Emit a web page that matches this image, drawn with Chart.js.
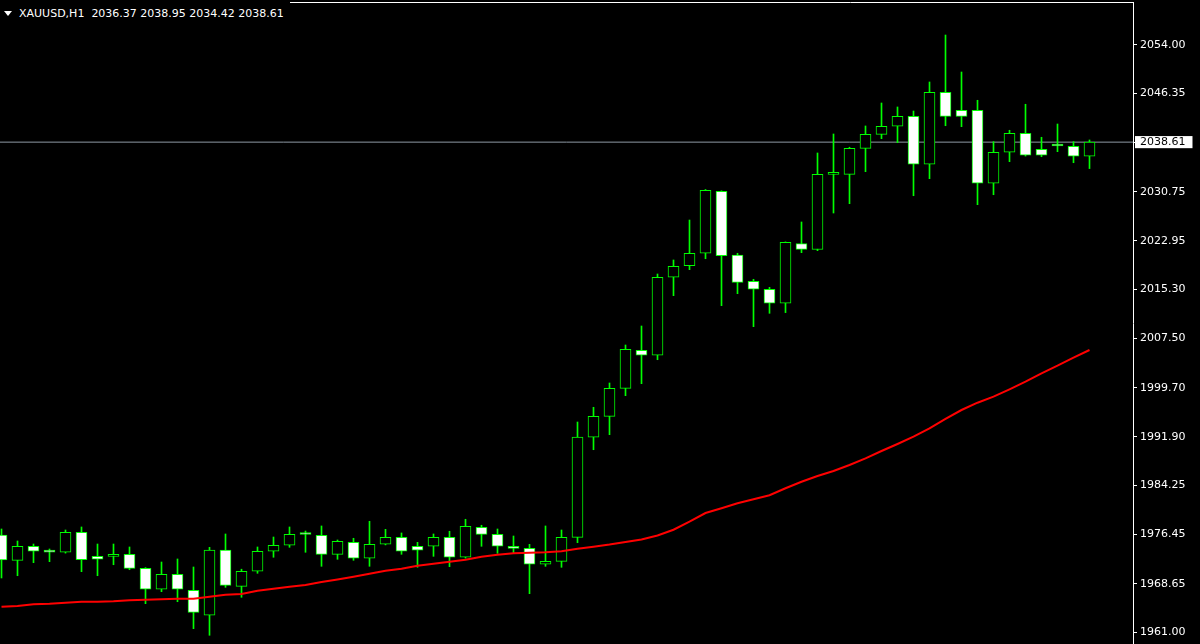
<!DOCTYPE html>
<html><head><meta charset="utf-8">
<script src="https://cdn.jsdelivr.net/npm/chart.js@4.4.1/dist/chart.umd.min.js"></script>
<style>
html,body{margin:0;padding:0;background:#000;width:1200px;height:644px;overflow:hidden}
#wrap{position:relative;width:1200px;height:644px;background:#000}
canvas{display:block}
#hdr{position:absolute;left:0;top:0;height:26px;background:#000;color:#fff;font-family:"DejaVu Sans";font-size:11px;line-height:28px;padding:0 6px 0 19px;white-space:pre}
#tri{position:absolute;left:4px;top:11px;width:0;height:0;border-left:4px solid transparent;border-right:4px solid transparent;border-top:5px solid #fff}
</style></head><body>
<div id="wrap"><canvas id="c" width="1200" height="644"></canvas><div id="hdr"><span id="tri"></span>XAUUSD,H1  2036.37 2038.95 2034.42 2038.61</div></div>
<script>
// H1 bars, oldest to newest
const opens = [1976.37,1972.36,1974.58,1973.75,1973.63,1976.80,1972.99,1972.99,1973.31,1971.09,
1967.77,1970.14,1967.61,1963.65,1973.99,1968.24,1970.62,1973.79,1974.74,1976.48,
1976.32,1973.31,1975.21,1972.68,1974.90,1976.00,1974.58,1974.58,1976.00,1972.84,
1977.59,1976.48,1974.58,1974.26,1971.73,1972.20,1976.00,1991.85,1995.17,1999.61,
2005.63,2004.84,2017.20,2019.04,2021.00,2030.82,2020.70,2016.56,2015.30,2013.08,
2022.52,2021.60,2033.50,2033.50,2037.63,2039.85,2041.12,2042.70,2035.10,2046.51,
2043.65,2043.65,2032.09,2037.00,2040.01,2037.48,2038.05,2037.95,2036.37];
const highs = [1977.32,1975.42,1974.94,1974.15,1977.16,1977.64,1974.94,1974.94,1974.47,1971.20,
1972.09,1972.57,1971.30,1974.42,1976.53,1970.95,1974.47,1976.05,1977.64,1977.00,
1977.80,1975.58,1975.85,1978.54,1977.27,1976.69,1975.21,1976.53,1976.96,1978.86,
1977.91,1977.32,1976.21,1974.89,1977.80,1977.16,1994.27,1996.60,2000.45,2006.47,
2009.48,2017.72,2019.94,2026.27,2031.10,2030.90,2021.00,2016.88,2015.61,2022.80,
2025.96,2036.89,2039.90,2037.80,2041.17,2044.81,2044.18,2043.54,2048.14,2055.58,
2049.72,2045.24,2038.68,2040.49,2044.61,2039.38,2041.48,2038.68,2038.95];
const lows = [1969.56,1969.92,1971.98,1972.14,1973.50,1970.56,1969.92,1971.66,1970.87,1965.49,
1967.39,1965.80,1961.53,1960.48,1968.08,1966.50,1970.30,1972.84,1974.42,1973.63,
1971.41,1972.52,1972.36,1971.41,1974.80,1973.31,1971.25,1972.99,1971.35,1972.70,
1974.58,1973.47,1973.47,1967.07,1971.41,1971.25,1975.15,1989.88,1992.26,1998.44,
2000.34,2004.14,2014.28,2018.40,2020.14,2012.70,2014.60,2009.37,2011.49,2011.60,
2021.10,2021.41,2027.38,2028.86,2033.93,2039.16,2038.52,2030.12,2032.82,2041.21,
2041.06,2028.70,2030.28,2035.51,2036.40,2036.30,2037.10,2035.35,2034.42];
const closes = [1972.41,1974.58,1973.79,1973.65,1976.80,1972.46,1972.52,1973.31,1971.09,1967.77,
1970.14,1967.77,1964.12,1973.99,1968.40,1970.62,1973.79,1974.74,1976.48,1976.45,
1973.31,1975.37,1972.68,1974.90,1976.00,1973.79,1973.95,1976.00,1972.84,1977.75,
1976.48,1974.58,1974.26,1971.73,1972.20,1976.00,1991.90,1995.17,1999.61,2005.79,
2004.84,2017.20,2018.94,2021.00,2030.98,2020.62,2016.40,2015.30,2013.08,2022.74,
2021.63,2033.52,2033.60,2037.63,2039.85,2041.12,2042.70,2035.10,2046.51,2042.70,
2042.70,2032.09,2037.00,2040.01,2036.53,2036.53,2038.00,2036.37,2038.61];
// moving average (red)
const maValues = [1965.01,1965.12,1965.40,1965.49,1965.64,1965.80,1965.80,1965.88,1966.04,1966.12,
1966.20,1966.28,1966.28,1966.59,1966.91,1967.02,1967.54,1967.86,1968.18,1968.45,
1968.92,1969.32,1969.76,1970.24,1970.70,1971.02,1971.49,1971.81,1972.13,1972.44,
1972.92,1973.23,1973.49,1973.57,1973.65,1973.80,1974.18,1974.52,1974.86,1975.26,
1975.66,1976.29,1977.20,1978.48,1979.85,1980.60,1981.39,1982.03,1982.66,1983.77,
1984.81,1985.72,1986.51,1987.46,1988.52,1989.68,1990.79,1991.94,1993.27,1994.75,
1996.17,1997.33,1998.28,1999.45,2000.66,2001.99,2003.19,2004.46,2005.68];
const priceTicks = [2054.00,2046.35,2038.61,2030.75,2022.95,2015.30,2007.50,1999.70,1991.90,1984.25,1976.45,1968.65,1961.00];
const lastPrice = 2038.61;

const yMin = 1959.10, yMax = 2060.81;
const xMin = -0.09375, xMax = 70.71875;
const GREEN = '#00ff00';

const wickData = highs.map((h, i) => ({x: i, y: [lows[i], h]}));
const bodyData = opens.map((o, i) => ({x: i, y: [o, closes[i]]}));
const bodyFill = opens.map((o, i) => closes[i] >= o ? '#000000' : '#ffffff');
const maData = maValues.map((v, i) => ({x: i, y: v}));

new Chart(document.getElementById('c'), {
  type: 'bar',
  data: {
    datasets: [
      {type: 'line', data: [{x: xMin, y: lastPrice}, {x: xMax, y: lastPrice}], borderColor: '#8e99a4', borderWidth: 1, pointRadius: 0, order: 4},
      {data: wickData, backgroundColor: GREEN, borderWidth: 0, barThickness: 1, grouped: false, order: 3},
      {data: bodyData, backgroundColor: bodyFill, borderColor: GREEN, borderWidth: 1, borderSkipped: false, barThickness: 11, minBarLength: 2, grouped: false, order: 2},
      {type: 'line', data: maData, borderColor: '#ff0000', borderWidth: 2, pointRadius: 0, tension: 0, order: 1}
    ]
  },
  options: {
    responsive: false,
    devicePixelRatio: 1,
    animation: false,
    events: [],
    layout: {padding: 0, autoPadding: false},
    plugins: {legend: {display: false}, tooltip: {enabled: false}},
    scales: {
      x: {
        type: 'linear', position: 'top', min: xMin, max: xMax, offset: false,
        grid: {display: true, drawOnChartArea: false, drawTicks: false, offset: false},
        border: {display: true, color: '#ffffff', width: 1},
        ticks: {display: false},
        afterFit: s => { s.height = 2; }
      },
      y: {
        position: 'right', min: yMin, max: yMax, beginAtZero: false,
        afterBuildTicks: s => { s.ticks = priceTicks.map(v => ({value: v})); },
        afterFit: s => { s.width = 67; s.paddingTop = 0; s.paddingBottom = 0; },
        grid: {drawOnChartArea: false, color: '#ffffff', tickLength: 4},
        border: {display: true, color: '#ffffff', width: 1},
        ticks: {
          autoSkip: false,
          padding: 3,
          font: {family: 'DejaVu Sans', size: 11, lineHeight: 1.1},
          color: c => (c.tick && c.tick.value === lastPrice) ? '#000000' : '#ffffff',
          showLabelBackdrop: true,
          backdropColor: c => (c.tick && c.tick.value === lastPrice) ? '#ffffff' : 'rgba(0,0,0,0)',
          backdropPadding: {left: 5, right: 7, top: 0, bottom: 0},
          callback: v => Number(v).toFixed(2)
        }
      }
    }
  }
});
</script>
</body></html>
